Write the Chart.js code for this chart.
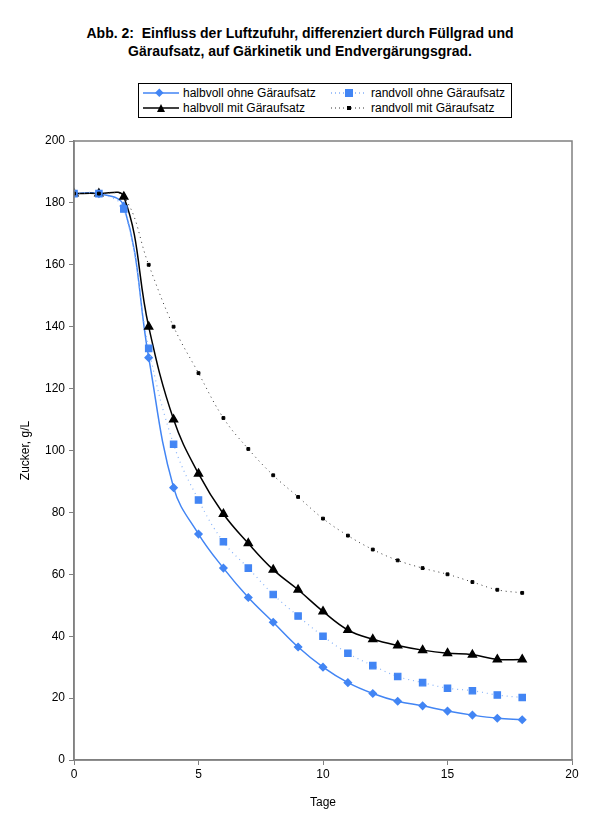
<!DOCTYPE html>
<html lang="de">
<head>
<meta charset="UTF-8">
<title>Abb. 2</title>
<script src="https://cdn.jsdelivr.net/npm/chart.js"></script>
<style>
    body { margin: 0; background: #fff; font-family: "Liberation Sans", Arial, sans-serif; }
    #wrap { position: relative; width: 600px; height: 836px; }
    #title { position: absolute; top: 24px; left: 0; width: 600px; text-align: center;
        font-weight: bold; font-size: 14px; line-height: 18px; }
    #legend { position: absolute; left: 138px; top: 83px; width: 374px; height: 35px;
        border: 1px solid #000; font-size: 12px; box-sizing: border-box; background: #fff; z-index: 2; }
    .item { position: absolute; display: flex; align-items: center; height: 16px; }
    .item svg { margin-right: 4px; }
    canvas { position: absolute; left: 0; top: 0; }
</style>
</head>
<body>
<div id="wrap">
    <div id="title">Abb. 2:&nbsp; Einfluss der Luftzufuhr, differenziert durch Füllgrad und<br>Gäraufsatz, auf Gärkinetik und Endvergärungsgrad.</div>
    <div id="legend">
        <div class="item" style="left:4px;top:1px"><svg width="36" height="10"><line x1="0" y1="5" x2="36" y2="5" stroke="#4285f4" stroke-width="1.5"/><rect x="14" y="1" width="6" height="6" fill="#4285f4" transform="rotate(45 17 4) translate(0 1)"/></svg>halbvoll ohne Gäraufsatz</div>
        <div class="item" style="left:192px;top:1px"><svg width="36" height="10"><line x1="0" y1="5" x2="36" y2="5" stroke="#4285f4" stroke-width="1" stroke-dasharray="1,3"/><rect x="14" y="1" width="8" height="8" fill="#4285f4"/></svg>randvoll ohne Gäraufsatz</div>
        <div class="item" style="left:4px;top:16px"><svg width="36" height="10"><line x1="0" y1="5" x2="36" y2="5" stroke="#000" stroke-width="1.5"/><polygon points="18,1 22,9 14,9" fill="#000"/></svg>halbvoll mit Gäraufsatz</div>
        <div class="item" style="left:192px;top:16px"><svg width="36" height="10"><line x1="0" y1="5" x2="36" y2="5" stroke="#333" stroke-width="1" stroke-dasharray="1,3"/><rect x="16" y="3" width="4" height="4" fill="#000"/></svg>randvoll mit Gäraufsatz</div>
    </div>
    <canvas id="chart" width="600" height="836"></canvas>
</div>
<script>
const days = [0, 1, 2, 3, 4, 5, 6, 7, 8, 9, 10, 11, 12, 13, 14, 15, 16, 17, 18];
const halbvollOhne = [183, 183, 179, 130, 88, 73, 62, 52.5, 44.5, 36.5, 30, 25, 21.5, 19, 17.5, 15.8, 14.5, 13.5, 13];
const randvollOhne = [183, 183, 178, 133, 102, 84, 70.5, 62, 53.5, 46.5, 40, 34.5, 30.5, 27, 25, 23.2, 22.4, 21, 20.2];
const halbvollMit = [183, 183, 182, 140, 110, 92.5, 79.5, 70, 61.5, 55, 48, 42, 39, 37, 35.5, 34.5, 34, 32.5, 32.5];
const randvollMit = [183, 183, 182, 160, 140, 125, 110.5, 100.5, 92, 85, 78, 72.5, 68, 64.5, 62, 60, 57.5, 55, 54];

function pts(arr) { return arr.map((v, i) => ({ x: days[i], y: v })); }

const frame = {
    id: 'frame',
    afterDraw(chart) {
        const a = chart.chartArea, c = chart.ctx;
        c.save();
        c.strokeStyle = '#808080';
        c.lineWidth = 1.5;
        c.strokeRect(a.left, a.top, a.right - a.left, a.bottom - a.top);
        c.restore();
    }
};

Chart.defaults.font.family = '"Liberation Sans", Arial, sans-serif';
Chart.defaults.color = '#000';

new Chart(document.getElementById('chart'), {
    type: 'line',
    data: {
        datasets: [
            { label: 'randvoll mit Gäraufsatz', data: pts(randvollMit), borderColor: '#333', borderWidth: 1,
              borderDash: [1, 4], pointStyle: 'rect', pointRadius: 2, pointBackgroundColor: '#000', pointBorderColor: '#000', tension: 0.4 },
            { label: 'randvoll ohne Gäraufsatz', data: pts(randvollOhne), borderColor: '#8ab4f8', borderWidth: 1.2,
              borderDash: [1, 4], pointStyle: 'rect', pointRadius: 4.5, pointBackgroundColor: '#4285f4', pointBorderColor: '#4285f4', tension: 0.4 },
            { label: 'halbvoll mit Gäraufsatz', data: pts(halbvollMit), borderColor: '#000', borderWidth: 1.5,
              pointStyle: 'triangle', pointRadius: 4.5, pointBackgroundColor: '#000', pointBorderColor: '#000', tension: 0.4 },
            { label: 'halbvoll ohne Gäraufsatz', data: pts(halbvollOhne), borderColor: '#4285f4', borderWidth: 1.5,
              pointStyle: 'rectRot', pointRadius: 3.5, pointBackgroundColor: '#4285f4', pointBorderColor: '#4285f4', tension: 0.4 }
        ]
    },
    options: {
        responsive: false,
        animation: false,
        layout: { padding: { left: 18, right: 28, top: 141, bottom: 22 } },
        plugins: { legend: { display: false }, tooltip: { enabled: false } },
        scales: {
            x: {
                type: 'linear', min: 0, max: 20,
                ticks: { stepSize: 5, font: { size: 12 }, padding: 2 },
                grid: { drawOnChartArea: false, tickLength: 5, color: '#808080' },
                border: { color: '#808080', width: 1.5 },
                title: { display: true, text: 'Tage', font: { size: 12 }, padding: { top: 6 } },
                afterFit(s) { s.height = 54; }
            },
            y: {
                min: 0, max: 200,
                ticks: { stepSize: 20, font: { size: 12 }, padding: 4 },
                grid: { drawOnChartArea: false, tickLength: 5, color: '#808080' },
                border: { color: '#808080', width: 1.5 },
                title: { display: true, text: 'Zucker, g/L', font: { size: 12 }, padding: 0 },
                afterFit(s) { s.width = 56; }
            }
        }
    },
    plugins: [frame]
});
</script>
</body>
</html>
